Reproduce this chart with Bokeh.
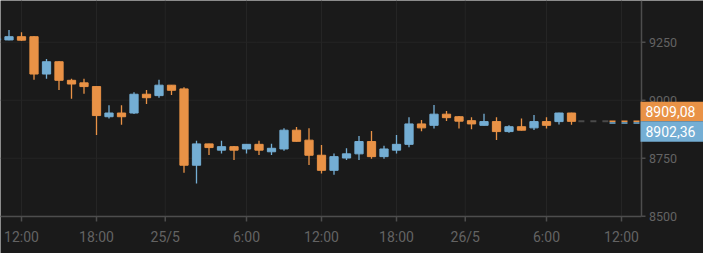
from bokeh.plotting import figure
from bokeh.models import Range1d, ColumnDataSource
from bokeh.core.properties import value
from bokeh.embed import file_html
from bokeh.resources import INLINE

# hourly candles, x = hours since 24/5 00:00
hours = list(range(10, 57))
opens = [9260, 9260, 9274, 9274, 9113, 9166, 9086, 9075, 9059, 8929, 8945, 8945, 9026, 9020, 9065,
         9049, 8720, 8812, 8785, 8800, 8790, 8810, 8778, 8790, 8871, 8828, 8763, 8698, 8751, 8769,
         8822, 8757, 8785, 8810, 8898, 8892, 8940, 8929, 8912, 8892, 8908, 8865, 8886, 8881, 8908,
         8908, 8945]
highs = [9268, 9303, 9293, 9276, 9178, 9168, 9093, 9093, 9060, 8978, 8978, 9035, 9044, 9088, 9066,
         9056, 8825, 8813, 8825, 8803, 8811, 8825, 8813, 8879, 8885, 8879, 8807, 8770, 8793, 8846,
         8868, 8804, 8850, 8927, 8915, 8980, 8954, 8932, 8927, 8942, 8927, 8892, 8921, 8937, 8927,
         8946, 8946]
lows = [9258, 9259, 9256, 9088, 9093, 9044, 9006, 9028, 8850, 8921, 8894, 8941, 8984, 9011, 9023,
        8688, 8641, 8764, 8770, 8743, 8770, 8764, 8764, 8782, 8822, 8721, 8684, 8679, 8743, 8743,
        8748, 8748, 8770, 8797, 8866, 8878, 8911, 8878, 8875, 8891, 8829, 8860, 8870, 8872, 8878,
        8895, 8894]
closes = [9266, 9274, 9259, 9113, 9166, 9086, 9070, 9059, 8934, 8945, 8929, 9026, 9011, 9065, 9043,
          8720, 8812, 8796, 8800, 8785, 8810, 8785, 8793, 8871, 8823, 8763, 8698, 8757, 8769, 8822,
          8757, 8790, 8810, 8898, 8881, 8940, 8925, 8910, 8898, 8908, 8865, 8886, 8871, 8908, 8892,
          8945, 8909.08]

last_price = 8909.08
bid_price = 8902.36

tick_hours = [12, 18, 23.5, 30, 36, 42, 47.5, 54, 60]
tick_labels = ["12:00", "18:00", "25/5", "6:00", "12:00", "18:00", "26/5", "6:00", "12:00"]
y_ticks = [8500, 8750, 9000, 9250]

UP = "#74AED4"
DOWN = "#E99246"
BG = "#1a1a1a"
GRID = "#252525"
AXIS = "#4d4d4d"
TXT = "#636363"

# frame covers the whole canvas; pixel -> data unit conversions
W, H = 703, 253
X0, X1 = 10.32, 66.56
Y0, Y1 = 8339.5, 9430.0
HPX = (X1 - X0) / W
VPX = (Y1 - Y0) / H
AXIS_X = X0 + 641 * HPX     # right price axis
AXIS_Y = Y1 - 216 * VPX     # bottom time axis

colors = [UP if c >= o else DOWN for o, c in zip(opens, closes)]
src = ColumnDataSource(dict(
    x=hours, o=opens, h=highs, l=lows, c=closes,
    top=[max(o, c) for o, c in zip(opens, closes)],
    bot=[min(o, c) for o, c in zip(opens, closes)],
    color=colors,
))

p = figure(width=W, height=H, x_range=Range1d(X0, X1), y_range=Range1d(Y0, Y1),
           x_axis_location=None, y_axis_location=None, output_backend="svg",
           toolbar_location=None, min_border=0)
p.background_fill_color = BG
p.border_fill_color = BG
p.outline_line_color = None
p.grid.visible = False

# grid
p.segment(x0=tick_hours, y0=[AXIS_Y] * len(tick_hours), x1=tick_hours, y1=[Y1] * len(tick_hours),
          line_color=GRID, line_width=1)
p.segment(x0=[X0] * len(y_ticks), y0=y_ticks, x1=[AXIS_X] * len(y_ticks), y1=y_ticks,
          line_color=GRID, line_width=1)

# candles
p.segment(x0="x", y0="h", x1="x", y1="l", color="color", line_width=1.3, source=src)
p.vbar(x="x", width=0.66, top="top", bottom="bot", fill_color="color", line_color="color",
       line_width=1, source=src)

# projection of last price, then last / bid price lines
split = X0 + 609 * HPX
p.segment(x0=[hours[-1] + 0.55], y0=[last_price], x1=[split], y1=[last_price],
          line_color="#4a4a4a", line_width=2, line_dash="6 6")
p.segment(x0=[split], y0=[last_price], x1=[AXIS_X], y1=[last_price],
          line_color=DOWN, line_width=1.5, line_dash="6 6")
p.segment(x0=[split], y0=[bid_price], x1=[AXIS_X], y1=[bid_price],
          line_color=UP, line_width=1.5, line_dash="6 6")

# bottom time axis
p.segment(x0=[X0], y0=[AXIS_Y], x1=[AXIS_X], y1=[AXIS_Y], line_color=AXIS, line_width=1.5)
p.segment(x0=tick_hours, y0=[AXIS_Y] * len(tick_hours), x1=tick_hours,
          y1=[AXIS_Y - 5 * VPX] * len(tick_hours), line_color=AXIS, line_width=1.5)
p.text(x=tick_hours, y=[AXIS_Y - 20.5 * VPX] * len(tick_hours), text=tick_labels,
       text_font=value("Roboto"), text_font_size=value("14px"), text_color=TXT,
       text_align="center", text_baseline="middle")

# right price axis
p.segment(x0=[AXIS_X], y0=[AXIS_Y], x1=[AXIS_X], y1=[Y1], line_color=AXIS, line_width=1.5)
p.segment(x0=[AXIS_X] * len(y_ticks), y0=y_ticks, x1=[AXIS_X + 4 * HPX] * len(y_ticks),
          y1=y_ticks, line_color=AXIS, line_width=1.5)
p.text(x=[AXIS_X + 7.5 * HPX] * len(y_ticks), y=y_ticks, text=[str(t) for t in y_ticks],
       text_font=value("Roboto"), text_font_size=value("12.5px"), text_color=TXT,
       text_align="left", text_baseline="middle")

# price boxes on the axis
box_top = [last_price + 19.5 * VPX, last_price]
box_bot = [last_price, last_price - 20.5 * VPX]
p.quad(left=[AXIS_X - HPX] * 2, right=[X1] * 2, top=box_top, bottom=box_bot,
       fill_color=[DOWN, UP], line_color=None)
p.text(x=[AXIS_X + 4 * HPX] * 2, y=[(t + b) / 2 for t, b in zip(box_top, box_bot)],
       text=[f"{v:.2f}".replace(".", ",") for v in (last_price, bid_price)],
       text_font=value("Roboto"), text_font_size=value("14px"), text_color="white",
       text_align="left", text_baseline="middle")

open("out.html", "w").write(file_html(p, INLINE))
